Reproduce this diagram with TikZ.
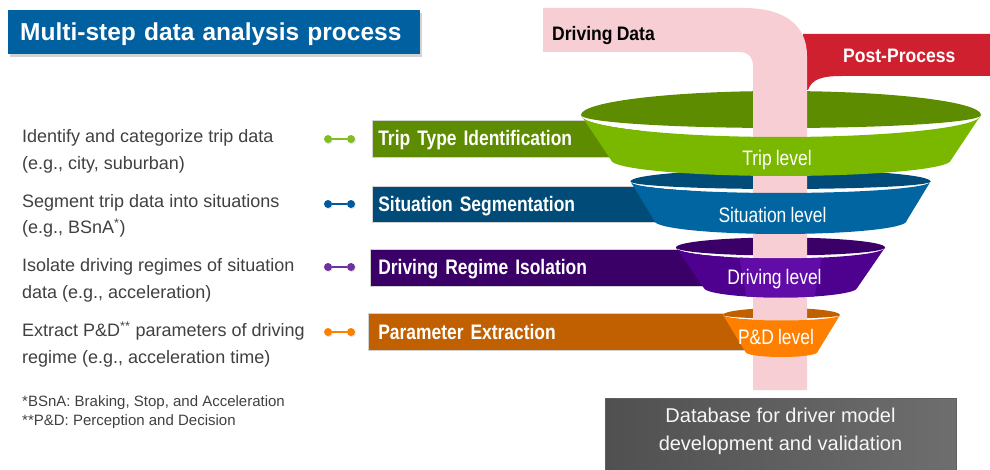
\documentclass[tikz,border=0pt]{standalone}
\usepackage{fontspec}
\setmainfont{Liberation Sans}
\newfontfamily\narrowsans{Liberation Sans}[FakeStretch=0.83, WordSpace=0.85,
  BoldFeatures={WordSpace=0.75}]
\newfontfamily\semisans{Liberation Sans}[FakeStretch=0.9, WordSpace=0.85]
\usetikzlibrary{shadows}

\definecolor{titleblue}{RGB}{0,96,160}
\definecolor{pipepink}{RGB}{246,206,211}
\definecolor{postred}{RGB}{206,32,46}
\definecolor{tripdark}{RGB}{94,140,0}
\definecolor{triplight}{RGB}{122,184,0}
\definecolor{sitdark}{RGB}{0,75,120}
\definecolor{sitlight}{RGB}{0,101,160}
\definecolor{drvdark}{RGB}{58,0,104}
\definecolor{drvlight}{RGB}{78,0,142}
\definecolor{drvmid}{RGB}{98,12,168}
\definecolor{pddark}{RGB}{192,96,0}
\definecolor{pdlight}{RGB}{255,128,0}
\definecolor{dotgreen}{RGB}{130,190,30}
\definecolor{dotblue}{RGB}{0,90,160}
\definecolor{dotpurple}{RGB}{112,48,160}
\definecolor{dotorange}{RGB}{255,127,0}
\definecolor{bodygray}{RGB}{64,64,64}
\definecolor{dbdark}{RGB}{80,80,80}
\definecolor{dblight}{RGB}{110,110,110}

% Back of a funnel ring: the white opening, then the dark inner wall.
% #1 centre x, #2 rim y, #3 rim half-width, #4 rim rise,
% #5 inner-wall sag, #6 front-rim sag, #7 colour
\newcommand\funnelback[7]{%
  \fill[white] (#1-#3,#2) arc[start angle=180,end angle=360,x radius=#3,y radius=#4]
    arc[start angle=0,end angle=180,x radius=#3,y radius=#6] -- cycle;
  \fill[#7] (#1-#3,#2) arc[start angle=180,end angle=360,x radius=#3,y radius=#4]
    arc[start angle=0,end angle=180,x radius=#3,y radius=#5] -- cycle;}

% Front band of a funnel ring.
% #1 centre x, #2 rim y, #3 rim half-width, #4 front-rim sag,
% #5 lower y, #6 lower half-width, #7 lower sag, #8 path options
\newcommand\funnelband[8]{%
  \path[#8] (#1-#3,#2) arc[start angle=180,end angle=0,x radius=#3,y radius=#4]
    -- (#1+#6,#5) arc[start angle=0,end angle=180,x radius=#6,y radius=#7] -- cycle;}

\begin{document}
\begin{tikzpicture}[x=1pt,y=-1pt,
  titlebox/.style={anchor=west, fill=titleblue, text=white,
    font=\bfseries\fontsize{24.5}{24.5}\selectfont,
    text height=17.5pt, text depth=0pt, minimum height=44pt,
    inner xsep=12pt, inner ysep=0pt, text width=388pt, align=left,
    drop shadow={opacity=0.35, shadow xshift=2pt, shadow yshift=-3pt}},
  desc/.style={anchor=base west, align=left, inner sep=0pt, text=bodygray,
    font=\fontsize{18}{26.7}\selectfont},
  note/.style={anchor=base west, align=left, inner sep=0pt, text=bodygray,
    font=\fontsize{15}{19}\selectfont},
  dotend/.style={circle, inner sep=0pt, minimum size=8pt,
    drop shadow={opacity=0.25, shadow xshift=0.8pt, shadow yshift=-1pt}},
  dumbbell/.style={line width=2pt},
  barbox/.style={anchor=west, inner xsep=6pt, inner ysep=0pt, text=white,
    font=\narrowsans\bfseries\fontsize{21}{21}\selectfont,
    text height=15pt, text depth=0pt, align=left,
    draw=gray!35, line width=0.6pt},
  ringlabel/.style={inner sep=0pt, text=white,
    font=\narrowsans\fontsize{21}{21}\selectfont,
    text height=15pt, text depth=0pt},
  pipelabel/.style={anchor=base west, inner sep=0pt,
    font=\semisans\bfseries\fontsize{19.5}{19.5}\selectfont},
]
\useasboundingbox (0,0) rectangle (990,470);

% heading
\node[titlebox] (title) at (8,32) {Multi-step data analysis process};

% step descriptions (anchored on the baseline of the second line)
\node[desc] (desc1) at (22,169.5) {Identify and categorize trip data\\(e.g., city, suburban)};
\node[desc] (desc2) at (22,234) {Segment trip data into situations\\(e.g., BSnA\textsuperscript{*})};
\node[desc] (desc3) at (22,298.5) {Isolate driving regimes of situation\\data (e.g., acceleration)};
\node[desc] (desc4) at (22,363) {Extract P\&D\textsuperscript{**} parameters of driving\\regime (e.g., acceleration time)};

% footnotes
\node[note] (notes) at (22,425) {*BSnA: Braking, Stop, and Acceleration\\**P\&D: Perception and Decision};

% dumbbell markers
\node[dotend, fill=dotgreen] (g1) at (328,139) {};
\node[dotend, fill=dotgreen] (g2) at (351,139) {};
\draw[dumbbell, dotgreen] (g1) -- (g2);
\node[dotend, fill=dotblue] (b1) at (328,204) {};
\node[dotend, fill=dotblue] (b2) at (351,204) {};
\draw[dumbbell, dotblue] (b1) -- (b2);
\node[dotend, fill=dotpurple] (p1) at (328,267) {};
\node[dotend, fill=dotpurple] (p2) at (351,267) {};
\draw[dumbbell, dotpurple] (p1) -- (p2);
\node[dotend, fill=dotorange] (o1) at (328,332) {};
\node[dotend, fill=dotorange] (o2) at (351,332) {};
\draw[dumbbell, dotorange] (o1) -- (o2);

% post-process branch, behind the pipe
\fill[postred] (803,34) -- (990,34) -- (990,76) -- (842,76)
  .. controls (822,76) and (812,79) .. (808,90) -- (803,90) -- cycle;

% step bars, running in under the rings
\node[barbox, fill=tripdark, minimum height=37pt, text width=256pt] (trip) at (372,138.5) {Trip Type Identification};
\node[barbox, fill=sitdark, minimum height=36pt, text width=306pt] (sit) at (372,204) {Situation Segmentation};
\node[barbox, fill=drvdark, minimum height=37pt, inner xsep=8pt, text width=344pt] (drv) at (370,267.5) {Driving Regime Isolation};
\node[barbox, fill=pddark, minimum height=37pt, inner xsep=10pt, text width=382pt] (par) at (368,331.5) {Parameter Extraction};

% ring backs
\funnelback{781}{115}{200}{24}{13}{22}{tripdark}
\funnelback{780.5}{181.5}{150}{12}{7.5}{11.5}{sitdark}
\funnelback{780.5}{247.5}{104.5}{10}{8}{11}{drvdark}
\funnelback{781.5}{315}{58.5}{7}{3.5}{5.5}{pddark}

% driving-data pipe
\fill[pipepink] (543,8) -- (743,8) .. controls (786,8) and (807,26) .. (807,56)
  -- (807,390) -- (753,390) -- (753,66) .. controls (753,57) and (748,52) .. (739,52)
  -- (543,52) -- cycle;

% ring front bands
\funnelband{781}{115}{200}{22}{160}{170}{16}{fill=triplight}
\funnelband{780.5}{181.5}{150}{11.5}{221}{126}{13}{fill=sitlight}
\funnelband{780.5}{247.5}{104.5}{11}{287.5}{77}{10}{fill=drvlight}
\begin{scope}
  \funnelband{780.5}{247.5}{104.5}{11}{287.5}{77}{10}{clip}
  \fill[drvmid] (738,250) -- (823,250) -- (814,300) -- (747,300) -- cycle;
\end{scope}
\funnelband{781.5}{315}{58.5}{5.5}{352}{36}{5}{fill=pdlight}

% ring labels
\node[ringlabel] (lvtrip) at (777,158) {Trip level};
\node[ringlabel] (lvsit) at (772.5,215) {Situation level};
\node[ringlabel] (lvdrv) at (774.5,276.5) {Driving level};
\node[ringlabel] (lvpd) at (776,336.5) {P\&D level};

% pipe labels
\node[pipelabel, text=black] (dd) at (552,40.5) {Driving Data};
\node[pipelabel, text=white] (pp) at (843,63) {Post-Process};

% output database
\node[anchor=north west, minimum width=351pt, minimum height=76pt,
  left color=dbdark, right color=dblight, draw=gray!75!black, line width=0.8pt,
  inner sep=0pt] (db) at (605,398) {};
\node[align=center, text=white!94!gray, inner sep=0pt,
  font=\fontsize{20}{28}\selectfont] (dbtext) at (780.5,431.5)
  {Database for driver model\\development and validation};
\end{tikzpicture}
\end{document}
